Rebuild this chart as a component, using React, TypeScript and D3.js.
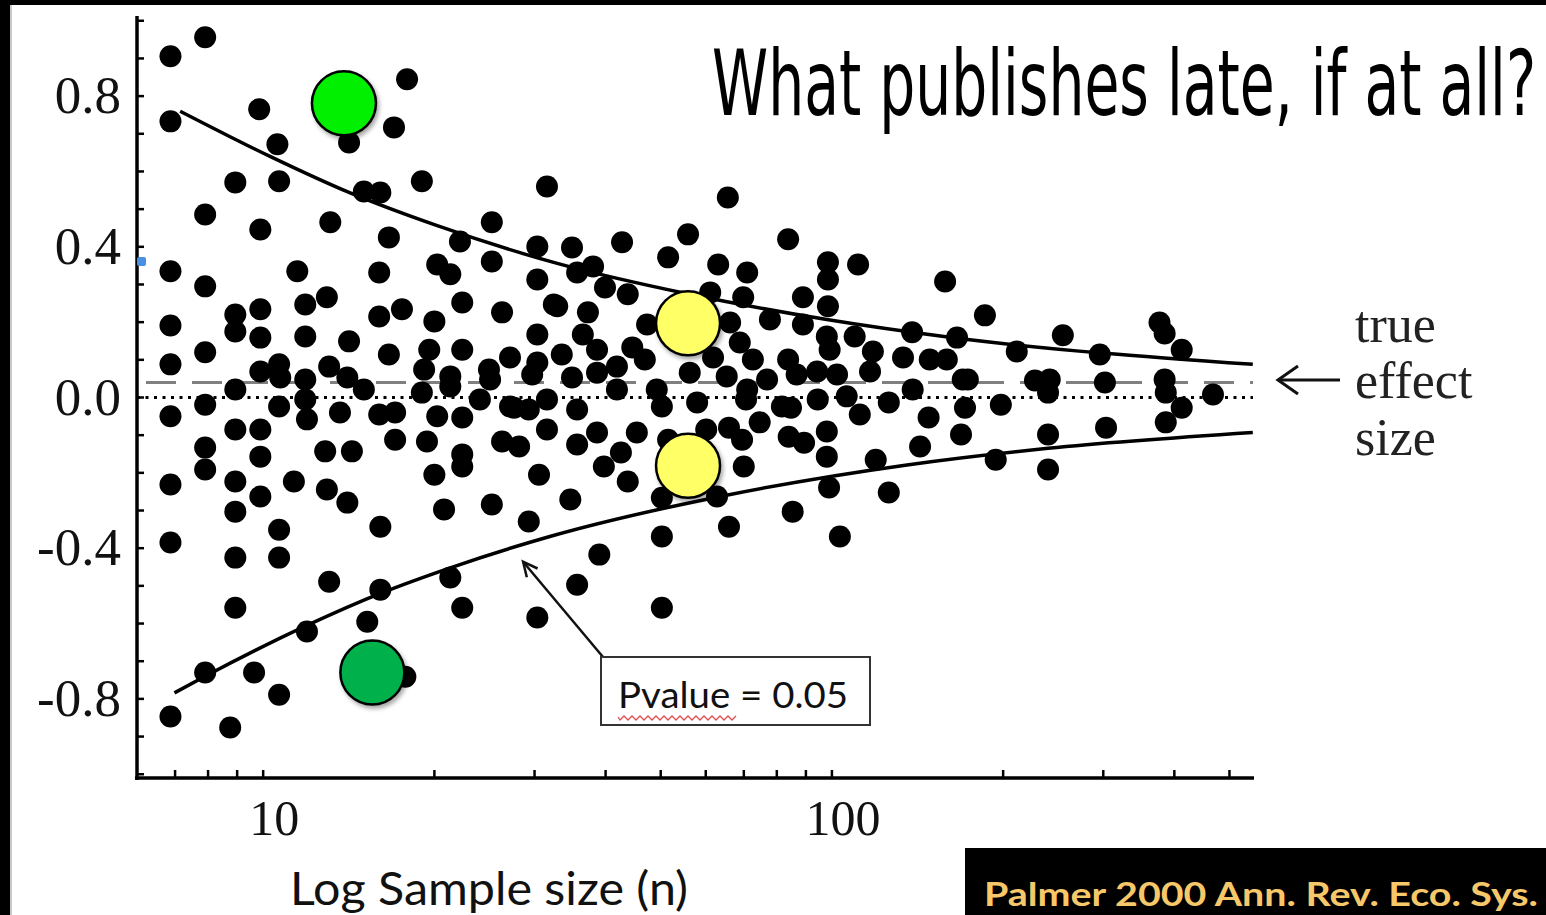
import React, { useLayoutEffect, useRef, useState } from "react";
import * as d3 from "d3";

// ---- data: [log10(sample size), effect size] ----
const studiesUpperLeft: [number, number][] = [
  [0.837,0.906],[0.898,0.956],[0.837,0.733],[0.993,0.765],[1.025,0.672],[1.151,0.677],[1.253,0.845],[1.230,0.717],
  [0.951,0.571],[1.028,0.574],[0.898,0.486],[0.995,0.446],[1.118,0.465],[1.177,0.547],[1.206,0.544],[1.279,0.574],
  [1.221,0.425],[1.499,0.560],[1.346,0.414],[1.402,0.465],[1.482,0.401],[0.837,0.335],[0.898,0.295],[1.060,0.335],
  [1.204,0.332],[1.306,0.353],[1.329,0.327],[1.402,0.361],[1.482,0.313],[0.951,0.220],[0.951,0.175],[0.995,0.234],
  [0.995,0.159],[1.074,0.247],[1.112,0.266],[1.074,0.162],[1.151,0.149],[1.204,0.215],[1.244,0.234],[1.301,0.202],
  [1.350,0.252],[1.420,0.226],[1.482,0.167],[1.511,0.247],[0.837,0.191],[0.898,0.120],[0.837,0.088],[0.995,0.069],
  [1.028,0.088],[1.030,0.053],[1.074,0.048],[1.116,0.082],[1.148,0.053],[1.221,0.114],[1.292,0.127],[1.283,0.074],
  [1.350,0.127],[1.329,0.056],[1.397,0.074],[1.434,0.106],[1.482,0.093],[1.473,0.061],[0.951,0.021],[1.177,0.021],
  [1.279,0.013],[1.399,0.048],[1.329,0.029],
];
const studiesLowerLeft: [number, number][] = [
  [0.837,-0.050],[0.898,-0.019],[0.951,-0.085],[0.995,-0.085],[0.898,-0.133],[0.898,-0.191],[0.995,-0.157],[0.837,-0.231],
  [0.951,-0.223],[0.995,-0.263],[0.951,-0.303],[1.054,-0.223],[1.028,-0.024],[1.077,-0.058],[1.135,-0.040],[1.109,-0.143],
  [1.156,-0.143],[1.112,-0.244],[1.148,-0.279],[1.028,-0.351],[1.028,-0.425],[0.951,-0.425],[0.837,-0.385],[0.951,-0.558],
  [1.116,-0.489],[1.206,-0.343],[1.204,-0.045],[1.232,-0.040],[1.232,-0.112],[1.288,-0.117],[1.306,-0.050],[1.350,-0.053],
  [1.350,-0.151],[1.350,-0.183],[1.301,-0.205],[1.318,-0.297],[1.402,-0.284],[1.420,-0.117],[1.450,-0.130],[1.485,-0.205],
  [1.467,-0.329],[1.499,-0.085],[1.441,-0.027],[1.467,-0.032],[1.206,-0.510],[1.077,-0.621],[1.183,-0.595],[1.329,-0.478],
  [1.350,-0.558],[1.482,-0.584],[0.898,-0.730],[0.984,-0.730],[1.028,-0.789],[0.837,-0.847],[0.942,-0.876],[1.250,-0.741],
  [1.381,-0.005],[1.499,-0.005],[1.434,-0.024],[1.074,-0.005],
];
const studiesUpperRight: [number, number][] = [
  [1.817,0.531],[1.747,0.433],[1.923,0.420],[1.631,0.412],[1.543,0.398],[1.712,0.372],[1.800,0.353],[1.851,0.332],
  [1.993,0.359],[1.993,0.313],[2.046,0.353],[2.199,0.308],[1.580,0.348],[1.552,0.332],[1.601,0.292],[1.641,0.274],
  [1.517,0.242],[1.571,0.226],[1.786,0.279],[1.844,0.266],[1.949,0.266],[1.993,0.242],[1.891,0.207],[1.949,0.194],
  [1.675,0.194],[1.821,0.199],[2.141,0.173],[2.220,0.159],[2.040,0.162],[1.991,0.162],[1.838,0.146],[1.562,0.167],
  [1.525,0.114],[1.587,0.127],[1.649,0.133],[1.671,0.101],[1.622,0.082],[1.543,0.053],[1.587,0.066],[1.791,0.106],
  [1.861,0.101],[1.923,0.101],[1.996,0.127],[2.072,0.122],[2.125,0.106],[2.172,0.101],[2.202,0.101],[1.750,0.066],
  [1.815,0.056],[1.938,0.061],[1.974,0.069],[2.009,0.061],[2.067,0.069],[2.230,0.048],[2.142,0.021],[1.622,0.021],
  [1.692,0.021],[1.851,0.021],[1.886,0.048],
  [2.269,0.218],[2.325,0.122],[2.406,0.165],[2.471,0.114],[2.576,0.199],[2.585,0.170],[2.615,0.127],[2.239,0.048],
  [2.357,0.045],[2.383,0.048],[2.480,0.040],[2.585,0.048],
];
const studiesLowerRight: [number, number][] = [
  [2.380,-0.098],[2.482,-0.080],[2.587,-0.066],[2.615,-0.027],[2.670,0.008],[2.587,0.013],[2.380,0.013],[2.288,-0.165],
  [2.380,-0.191],[2.297,-0.019],[2.234,-0.027],[2.227,-0.098],[2.170,-0.053],[2.155,-0.130],[2.077,-0.165],[2.100,-0.252],
  [2.049,-0.045],[1.991,-0.090],[1.991,-0.157],[1.995,-0.239],[1.931,-0.303],[2.014,-0.369],[1.951,-0.120],[1.924,-0.104],
  [1.912,-0.024],[1.975,-0.005],[2.026,0.003],[2.100,-0.013],[1.842,-0.112],[1.845,-0.183],[1.819,-0.343],[1.798,-0.263],
  [1.779,-0.085],[1.819,-0.080],[1.873,-0.066],[1.701,-0.266],[1.701,-0.369],[1.641,-0.223],[1.629,-0.146],[1.599,-0.183],
  [1.552,-0.125],[1.540,-0.271],[1.591,-0.417],[1.552,-0.497],[1.701,-0.558],[1.657,-0.093],[1.712,-0.112],[1.587,-0.093],
  [1.552,-0.032],[1.701,-0.024],[1.763,-0.013],[1.849,-0.005],[1.928,-0.027],
];

// p = 0.05 boundaries (log10 n, effect)
const upperBound: [number, number][] = [
  [0.854,0.760],[1.012,0.640],[1.153,0.543],[1.306,0.456],[1.517,0.356],[1.750,0.274],[1.991,0.207],[2.207,0.160],[2.740,0.088],
];
const lowerBound: [number, number][] = [
  [0.844,-0.784],[0.898,-0.740],[1.077,-0.605],[1.206,-0.520],[1.329,-0.452],[1.504,-0.369],[1.819,-0.258],[2.132,-0.179],[2.380,-0.135],[2.740,-0.093],
];

// highlighted studies (log10 n, effect, colour)
const highlights: [number, number, string][] = [
  [1.142, 0.781, "#00f000"],
  [1.192, -0.730, "#00b04c"],
  [1.747, 0.197, "#ffff66"],
  [1.747, -0.181, "#ffff66"],
];

const trueEffect = 0.04;
const yTickValues = d3.range(-10, 11).map((i) => i / 10);
const yLabelValues = [0.8, 0.4, 0.0, -0.4, -0.8];
const xTickValues = [7, 8, 9, 10, 20, 30, 40, 50, 60, 70, 80, 90, 100, 200, 300, 400, 500];
const xLabelValues = [10, 100];

const W = 1546;
const H = 915;
const TITLE_W = 824;

export default function App() {
  const titleRef = useRef<SVGTextElement | null>(null);
  const [titleScale, setTitleScale] = useState(0.7);

  useLayoutEffect(() => {
    if (titleRef.current) {
      const w = titleRef.current.getComputedTextLength();
      if (w > 0) setTitleScale(TITLE_W / w);
    }
  }, []);

  const x = d3.scaleLog().domain([6, 550]).range([137, 1253]);
  const y = d3.scaleLinear().domain([-1.01, 1.01]).range([778, 17]);
  const px = (l: number) => x(Math.pow(10, l));

  const line = d3
    .line<[number, number]>()
    .x((d) => px(d[0]))
    .y((d) => y(d[1]))
    .curve(d3.curveMonotoneX);

  const all = [...studiesUpperLeft, ...studiesLowerLeft, ...studiesUpperRight, ...studiesLowerRight];

  const serif = "'Liberation Serif', 'Times New Roman', serif";
  const sans = "Lato, 'Open Sans', 'Noto Sans', sans-serif";

  const tipX = px(1.457);
  const tipY = y(-0.436);
  const boxX = 601, boxY = 657, boxW = 269, boxH = 68;

  let squiggle = `M618,717`;
  for (let i = 0; i < 30; i++) {
    squiggle += ` L${620 + i * 4},${i % 2 === 0 ? 720 : 716}`;
  }

  const ang = Math.atan2(tipY - boxY, tipX - boxX);
  const ah = 16;
  const a1 = [tipX - ah * Math.cos(ang - 0.45), tipY - ah * Math.sin(ang - 0.45)];
  const a2 = [tipX - ah * Math.cos(ang + 0.45), tipY - ah * Math.sin(ang + 0.45)];

  return (
    <svg
      width={W}
      height={H}
      viewBox={`0 0 ${W} ${H}`}
      style={{ position: "absolute", left: 0, top: 0, background: "#fff" }}
    >
      <defs>
        <filter id="shadow" x="-30%" y="-30%" width="160%" height="160%">
          <feDropShadow dx="2" dy="3" stdDeviation="2" floodColor="#000" floodOpacity="0.35" />
        </filter>
        <filter id="soft" x="-20%" y="-20%" width="140%" height="140%">
          <feGaussianBlur stdDeviation="0.7" />
        </filter>
      </defs>
      <rect x={0} y={0} width={W} height={H} fill="#fff" />

      <line x1={146} x2={1253} y1={y(trueEffect)} y2={y(trueEffect)} stroke="#808080" strokeWidth={3} strokeDasharray="30 16" />
      <line x1={137} x2={1253} y1={y(0)} y2={y(0)} stroke="#000" strokeWidth={3} strokeDasharray="3 5.5" />

      <path d={line(upperBound) || ""} fill="none" stroke="#000" strokeWidth={3.5} />
      <path d={line(lowerBound) || ""} fill="none" stroke="#000" strokeWidth={3.5} />

      <g filter="url(#soft)">
        {all.map((d, i) => (
          <circle key={i} cx={px(d[0])} cy={y(d[1])} r={11} fill="#000" />
        ))}
      </g>

      <line x1={137} x2={137} y1={16} y2={780} stroke="#000" strokeWidth={3.5} />
      <line x1={135} x2={1254} y1={778} y2={778} stroke="#000" strokeWidth={3.5} />
      {yTickValues.map((v) => (
        <line key={"yt" + v} x1={137} x2={144} y1={y(v)} y2={y(v)} stroke="#000" strokeWidth={2.5} />
      ))}
      {xTickValues.map((v) => (
        <line key={"xt" + v} x1={x(v)} x2={x(v)} y1={778} y2={770} stroke="#000" strokeWidth={2.5} />
      ))}
      {yLabelValues.map((v) => (
        <text key={"yl" + v} x={121} y={y(v) + 17} textAnchor="end" fontFamily={serif} fontSize={53} fill="#111">
          {v === 0 ? "0.0" : v < 0 ? "-" + Math.abs(v).toFixed(1) : v.toFixed(1)}
        </text>
      ))}
      {xLabelValues.map((v) => (
        <text key={"xl" + v} x={x(v) + 11} y={835} textAnchor="middle" fontFamily={serif} fontSize={50} fill="#111">
          {v}
        </text>
      ))}

      <rect x={137} y={257} width={9} height={9} rx={2} fill="#4a90e2" />

      {highlights.map((d, i) => (
        <circle key={"h" + i} cx={px(d[0])} cy={y(d[1])} r={32} fill={d[2]} stroke="#000" strokeWidth={2.5} filter="url(#shadow)" />
      ))}

      <line x1={boxX + 2} y1={boxY} x2={tipX} y2={tipY} stroke="#111" strokeWidth={2.5} />
      <polyline points={`${a1[0]},${a1[1]} ${tipX},${tipY} ${a2[0]},${a2[1]}`} fill="none" stroke="#111" strokeWidth={2.5} />
      <rect x={boxX} y={boxY} width={boxW} height={boxH} fill="#fff" stroke="#333" strokeWidth={2} />
      <text x={618} y={708} fontFamily={sans} fontSize={37} fill="#111" textLength={230} lengthAdjust="spacingAndGlyphs">
        Pvalue = 0.05
      </text>
      <path d={squiggle} fill="none" stroke="#e05050" strokeWidth={1.3} />

      <line x1={1278} x2={1340} y1={380} y2={380} stroke="#111" strokeWidth={3} />
      <polyline points="1298,366 1278,380 1298,394" fill="none" stroke="#111" strokeWidth={3} />
      <text fontFamily={serif} fontSize={52} fill="#222">
        <tspan x={1355} y={342}>true</tspan>
        <tspan x={1355} y={398}>effect</tspan>
        <tspan x={1355} y={455}>size</tspan>
      </text>

      {/* title, squeezed horizontally to the condensed width of the original */}
      <g transform={`translate(712,115) scale(${titleScale},1)`}>
        <text
          ref={titleRef}
          x={0}
          y={0}
          fontFamily="'Liberation Sans Narrow', 'DejaVu Sans Condensed', 'Roboto', sans-serif"
          fontSize={90}
          fill="#000"
        >
          What publishes late, if at all?
        </text>
      </g>

      <text x={290} y={905} fontFamily={sans} fontSize={46} fill="#111" textLength={398} lengthAdjust="spacingAndGlyphs">
        Log Sample size (n)
      </text>

      <rect x={965} y={848} width={W - 965} height={H - 848} fill="#000" />
      <text x={984} y={906} fontFamily={sans} fontWeight={700} fontSize={32} fill="#f6c86a" textLength={554} lengthAdjust="spacingAndGlyphs">
        Palmer 2000 Ann. Rev. Eco. Sys.
      </text>

      <rect x={0} y={0} width={10} height={H} fill="#000" />
      <rect x={10} y={0} width={2} height={H} fill="#c8c8c8" />
      <rect x={0} y={0} width={W} height={5} fill="#000" />
    </svg>
  );
}
